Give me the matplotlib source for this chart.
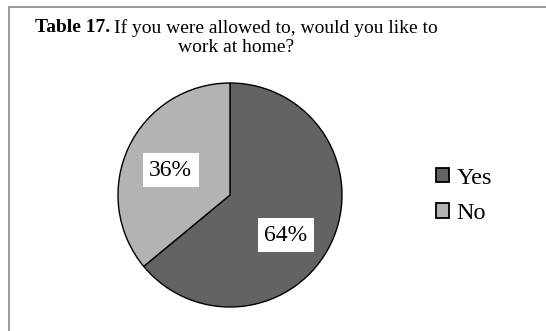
import matplotlib
matplotlib.use('Agg')
import matplotlib.pyplot as plt
from matplotlib.patches import Rectangle

labels = ['Yes', 'No']
values = [64, 36]
colors = ['#636363', '#b3b3b3']
pct_labels = ['64%', '36%']

W, H = 546, 331
plt.rcParams['font.family'] = 'Liberation Serif'

fig = plt.figure(figsize=(W / 100, H / 100), dpi=100)

# chart frame (only top and left edges are visible in the crop)
fig.patches.append(Rectangle((9 / W, -0.1), 1.2, (H - 7) / H + 0.1,
                             transform=fig.transFigure, fill=False,
                             edgecolor='#888888', lw=1.2))

# title: bold "Table 17." then regular text
t1 = fig.text(35 / W, 1 - 28 / H, 'Table 17.', fontsize=14,
              fontweight='bold', ha='left', va='center')
fig.canvas.draw()
bb = t1.get_window_extent()
fig.text(bb.x1 / W + 4 / W, 1 - 28 / H, 'If you were allowed to, would you like to',
         fontsize=14, ha='left', va='center')
fig.text(236 / W, 1 - 48 / H, 'work at home?', fontsize=14,
         ha='center', va='center')

# pie
cx, cy, r = 230, 195, 112
ax = fig.add_axes([(cx - r) / W, 1 - (cy + r) / H, 2 * r / W, 2 * r / H])
wedges, _ = ax.pie(values, colors=colors, startangle=90, counterclock=False,
                   wedgeprops=dict(edgecolor='black', linewidth=1.0))
ax.set_xlim(-1, 1)
ax.set_ylim(-1, 1)
ax.set_aspect('auto')

label_pos = [(0.50, -0.36), (-0.53, 0.22)]
for txt, (x, y) in zip(pct_labels, label_pos):
    ax.text(x, y, txt, fontsize=17, ha='center', va='center',
            bbox=dict(boxstyle='square,pad=0.28', facecolor='white', edgecolor='none'))

fig.legend(wedges, labels, loc='center left',
           bbox_to_anchor=(414 / W, 1 - 196 / H), frameon=False,
           fontsize=17.5, handlelength=0.55, handleheight=0.55,
           handletextpad=0.3, labelspacing=0.6)
for h in fig.legends[0].legend_handles:
    h.set_linewidth(1.3)

fig.savefig('out.png', dpi=100)
